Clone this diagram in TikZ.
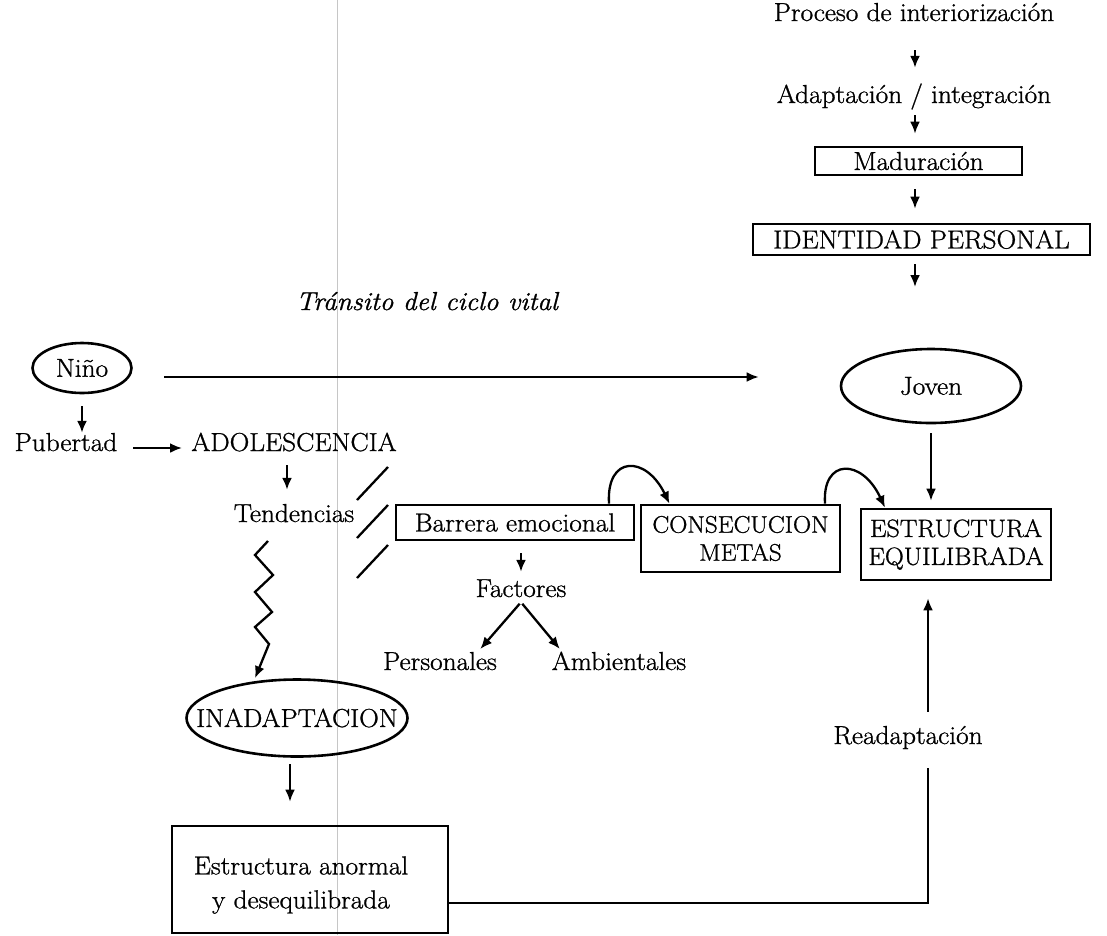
\documentclass[tikz,border=0pt]{standalone}
\usepackage{fontspec}
\setmainfont{Latin Modern Roman}[FakeBold=1, FakeStretch=1.05]
\usetikzlibrary{arrows.meta,shapes.geometric}
\begin{document}
\begin{tikzpicture}[x=1pt,y=-1pt,
  font=\fontsize{26}{28}\selectfont,
  lbl/.style={inner sep=0pt, text height=17pt, text depth=5pt},
  boxn/.style={draw, line width=2.6pt, inner sep=0pt, align=center},
  ell/.style={draw, ellipse, line width=2.6pt, inner sep=0pt},
  arr/.style={-{Latex[length=12pt,width=10pt]}, line width=2.3pt},
  ln/.style={line width=2.3pt}]
\useasboundingbox (0,0) rectangle (1107,935);
\fill[white] (0,0) rectangle (1107,935);
% scan fold line
\draw[gray!45, line width=0.8pt] (337,0) -- (337,935);

% right column
\node[lbl] (proc) at (914,15) {Proceso de interiorización};
\node[lbl] (adapt) at (914,97) {Adaptación / integración};
\node[boxn, minimum width=207pt, minimum height=28pt] (madur) at (918.5,161) {Maduración};
\node[boxn, minimum width=337pt, minimum height=31pt] (ident) at (921.5,239.5) {IDENTIDAD PERSONAL};
\coordinate (identend) at (915,287);

\draw[arr, shorten <=24pt, shorten >=18pt] ([xshift=1pt]proc.south) -- ([xshift=1pt]adapt.north);
\draw[arr, shorten <=7pt, shorten >=12pt] ([xshift=1pt]adapt.south) -- ([xshift=1pt]adapt.south |- madur.north);
\draw[arr, shorten <=13pt, shorten >=14pt] ([xshift=1pt]adapt.south |- madur.south) -- ([xshift=1pt]adapt.south |- ident.north);
\draw[arr, shorten <=8pt] ([xshift=1pt]adapt.south |- ident.south) -- (identend);

% title
\node[lbl, font=\fontsize{26}{28}\selectfont\itshape] (transito) at (427,304) {Tránsito del ciclo vital};

% Nino / Joven
\node[ell, minimum width=99pt, minimum height=50pt] (nino) at (82,368) {\makebox[0pt]{Niño}};
\node[ell, minimum width=180pt, minimum height=74pt] (joven) at (931,386) {\makebox[0pt]{Joven}};
\draw[arr, shorten <=31.5pt, shorten >=81pt] ([yshift=-9pt]nino.east) -- ([yshift=9pt]joven.west);

% left branch
\node[lbl] (pub) at (66,445) {Pubertad};
\node[lbl] (adol) at (294,445) {ADOLESCENCIA};
\node[lbl] (tend) at (294,516) {Tendencias};
\draw[arr, shorten <=12pt, shorten >=1pt] (nino.south) -- (nino.south |- pub.north);
\draw[arr] ([xshift=67pt,yshift=-3pt]pub.center) -- ([xshift=-112pt,yshift=-3pt]adol.center);
\draw[arr, shorten <=9pt, shorten >=15pt] ([xshift=-7pt]adol.south) -- ([xshift=-7pt]adol.south |- tend.north);

% slashes
\draw[ln] (357,500) -- (388,467);
\draw[ln] (357,538) -- (388,505);
\draw[ln] (357,578) -- (388,545);

% inadaptacion
\node[ell, minimum width=221pt, minimum height=77pt] (inad) at (297,718) {\makebox[0pt]{INADAPTACION}};
\coordinate (zz0) at (268,541);
\draw[arr] (zz0) -- (255,555) -- (273,575) -- (255,592) -- (272,612) -- (255,627) -- (269,644) -- (inad.north -| 255,0);

\node[boxn, minimum width=276pt, minimum height=107pt] (anormal) at (310,879.5) {};
\node[inner sep=0pt, align=center, font=\fontsize{26}{34}\selectfont] (anormaltxt) at (301,885) {Estructura anormal\\y desequilibrada};
\draw[arr, shorten <=6.5pt, shorten >=23pt] ([xshift=-7pt]inad.south) -- ([xshift=-7pt]inad.south |- anormal.north);

% middle row
\node[boxn, minimum width=238pt, minimum height=35pt] (barrera) at (515,522.5) {Barrera emocional};
\node[boxn, minimum width=199pt, minimum height=67pt, font=\fontsize{24}{28}\selectfont] (consec) at (740.5,538.5) {CONSECUCION\\METAS};
\node[boxn, minimum width=190pt, minimum height=71pt, font=\fontsize{25}{28}\selectfont] (estruc) at (956,544.5) {ESTRUCTURA\\EQUILIBRADA};

\draw[arr] ([xshift=94pt]barrera.north) .. controls (606,455) and (646,455) .. ([xshift=-71pt]consec.north);
\draw[arr] ([xshift=84.5pt]consec.north) .. controls (822,458) and (862,458) .. ([xshift=-71pt]estruc.north);
\draw[arr, shorten <=9pt, shorten >=7pt] (joven.south) -- (joven.south |- estruc.north);

\node[lbl] (factores) at (521,591) {Factores};
\node[lbl] (personales) at (440,664) {Personales};
\node[lbl] (ambientales) at (619,664) {Ambientales};
\draw[arr, shorten <=12pt, shorten >=8pt] (factores.north |- barrera.south) -- (factores.north);
\draw[arr, shorten <=2pt, shorten >=5pt] (factores.south) -- ([xshift=37pt]personales.north);
\draw[arr, shorten <=2pt, shorten >=5pt] (factores.south) -- ([xshift=-56pt]ambientales.north);

% readaptacion
\node[lbl] (readapt) at (908,738) {Readaptación};
\draw[arr, shorten <=15pt, shorten >=17pt] ([xshift=20pt]readapt.north) -- ([xshift=20pt]readapt.north |- estruc.south);
\draw[ln, shorten >=19pt] ([yshift=-23.5pt]anormal.east) -| ([xshift=20pt]readapt.south);
\end{tikzpicture}
\end{document}
